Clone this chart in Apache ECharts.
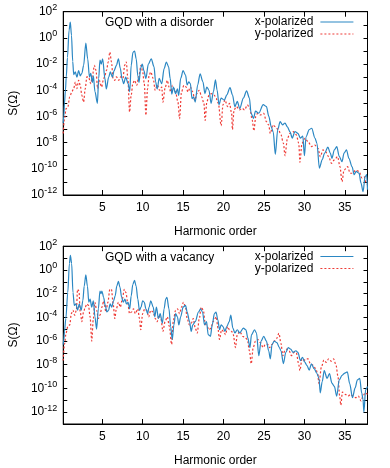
<!DOCTYPE html>
<html>
<head>
<meta charset="utf-8">
<script src="https://cdn.jsdelivr.net/npm/echarts@6/dist/echarts.min.js"></script>
<style>
  html, body { margin: 0; padding: 0; background: #fff; }
  #main { width: 390px; height: 468px; }
</style>
</head>
<body>
<div id="main"></div>
<script>
// harmonic order vs log10 S(Omega)
var disorderX = [
  [0.17,-6.5],[0.25,-6.0],[0.33,-5.0],[0.45,-4.0],[0.55,-3.0],[0.7,-1.5],[0.9,0.6],[1.05,1.2],[1.2,0.2],[1.35,-1.8],
  [1.47,-2.8],[1.67,-2.6],[1.87,-3.0],[2.08,-2.5],[2.28,-2.9],[2.48,-2.7],[2.7,-2.1],[2.97,-0.4],[3.2,-1.6],[3.42,-3.0],
  [3.58,-2.7],[3.78,-3.4],[3.9,-2.9],[4.1,-4.1],[4.4,-5.0],[4.56,-3.1],[4.72,-1.7],[4.88,-2.0],[5.05,-1.6],[5.33,-3.1],
  [5.5,-3.9],[5.8,-3.0],[6.0,-2.6],[6.26,-3.0],[6.47,-2.5],[6.75,-2.1],[7.0,-1.6],[7.24,-2.35],[7.44,-3.1],[7.65,-3.5],
  [7.9,-3.0],[8.2,-3.5],[8.4,-4.1],[8.58,-2.1],[8.8,-1.1],[9.0,-1.0],[9.2,-1.6],[9.4,-2.9],[9.55,-3.4],[9.75,-2.3],
  [9.95,-2.0],[10.15,-2.5],[10.4,-3.1],[10.7,-2.0],[11.06,-1.6],[11.4,-2.2],[11.6,-3.35],[11.8,-3.9],[12.04,-3.1],[12.36,-3.5],
  [12.65,-2.35],[12.93,-1.85],[13.2,-2.2],[13.4,-3.1],[13.6,-4.3],[13.8,-3.75],[14.07,-4.25],[14.3,-3.9],[14.45,-4.4],[14.7,-3.1],
  [15.0,-2.5],[15.3,-2.85],[15.5,-3.6],[15.7,-3.35],[15.9,-3.5],[16.1,-4.65],[16.3,-4.5],[16.5,-4.9],[16.8,-3.6],[17.1,-2.75],
  [17.45,-3.35],[17.7,-4.25],[17.93,-3.75],[18.2,-4.0],[18.46,-5.0],[18.75,-4.1],[19.0,-3.2],[19.2,-3.98],[19.44,-5.1],[19.7,-4.6],
  [20.1,-4.75],[20.4,-4.35],[20.8,-3.8],[21.1,-4.35],[21.4,-5.25],[21.7,-4.85],[22.0,-5.4],[22.45,-4.6],[22.85,-4.05],[23.2,-4.6],
  [23.4,-5.75],[23.7,-6.15],[23.95,-5.6],[24.36,-5.75],[24.9,-5.1],[25.3,-5.25],[25.6,-6.0],[25.9,-6.8],[26.15,-7.2],[26.4,-8.9],
  [26.7,-7.0],[27.0,-6.4],[27.3,-6.65],[27.6,-6.5],[27.9,-6.8],[28.2,-7.15],[28.5,-7.65],[28.83,-7.15],[29.2,-7.3],[29.5,-7.65],
  [29.8,-7.5],[30.0,-9.0],[30.2,-7.55],[30.6,-7.0],[30.9,-6.9],[31.3,-7.65],[31.55,-8.05],[31.85,-9.95],[32.2,-9.3],[32.5,-8.8],
  [32.9,-8.35],[33.2,-8.8],[33.4,-9.2],[33.7,-8.55],[34.0,-8.3],[34.3,-9.05],[34.65,-9.45],[34.9,-8.8],[35.2,-8.55],[35.5,-9.2],
  [35.9,-9.85],[36.15,-10.45],[36.4,-10.2],[36.76,-10.35],[37.0,-11.1],[37.25,-11.75],[37.5,-10.6],[37.7,-10.45],[37.8,-11.6]
];
var disorderY = [
  [0.17,-7.3],[0.33,-6.2],[0.53,-5.4],[0.74,-5.3],[0.98,-4.5],[1.26,-4.1],[1.47,-3.87],[1.67,-3.37],[1.87,-3.87],[2.08,-3.24],
  [2.28,-3.62],[2.48,-4.38],[2.69,-4.9],[2.9,-3.87],[3.1,-2.98],[3.3,-2.98],[3.58,-3.49],[3.83,-2.73],[4.03,-2.1],[4.23,-2.48],
  [4.43,-3.87],[4.64,-3.24],[4.92,-3.75],[5.13,-3.24],[5.33,-2.86],[5.53,-2.48],[5.74,-1.84],[5.94,-1.08],[6.14,-1.84],[6.34,-3.1],
  [6.55,-3.24],[6.75,-2.98],[7.04,-3.24],[7.28,-2.98],[7.56,-3.1],[7.77,-2.1],[7.97,-1.84],[8.17,-3.1],[8.38,-5.65],[8.58,-4.38],
  [8.78,-3.49],[8.98,-3.24],[9.27,-3.62],[9.5,-3.0],[9.8,-2.1],[10.0,-2.6],[10.2,-3.5],[10.4,-5.9],[10.6,-3.9],[10.8,-2.86],
  [11.0,-2.6],[11.3,-3.1],[11.55,-4.0],[11.8,-3.6],[12.1,-4.0],[12.36,-3.75],[12.5,-4.9],[12.8,-3.75],[13.05,-3.24],[13.26,-3.75],
  [13.46,-4.13],[13.67,-3.62],[13.87,-3.87],[14.07,-4.13],[14.36,-4.9],[14.56,-6.17],[14.8,-4.13],[15.1,-3.62],[15.37,-3.75],[15.6,-4.13],
  [15.9,-3.75],[16.2,-4.13],[16.43,-4.77],[16.7,-4.26],[17.0,-4.0],[17.3,-4.51],[17.57,-5.0],[17.73,-6.3],[17.93,-4.9],[18.2,-4.38],
  [18.5,-4.26],[18.87,-4.38],[19.07,-4.62],[19.36,-5.0],[19.7,-6.7],[19.93,-5.12],[20.17,-4.74],[20.5,-5.25],[20.74,-5.0],[21.0,-5.76],
  [21.1,-7.0],[21.3,-5.5],[21.6,-5.25],[21.96,-5.5],[22.3,-5.38],[22.6,-5.5],[22.94,-5.12],[23.26,-5.38],[23.54,-6.27],[23.75,-7.1],
  [23.99,-6.0],[24.2,-5.76],[24.56,-5.89],[24.97,-5.76],[25.3,-6.4],[25.58,-6.65],[25.78,-7.3],[26.1,-6.65],[26.4,-6.78],[26.8,-7.03],
  [27.1,-7.4],[27.4,-8.05],[27.6,-9.0],[27.9,-7.67],[28.2,-7.29],[28.6,-7.16],[29.0,-7.4],[29.3,-8.05],[29.44,-9.5],[29.7,-8.05],
  [30.05,-7.67],[30.45,-7.92],[30.86,-8.3],[31.27,-8.18],[31.67,-8.43],[31.96,-9.07],[32.3,-8.56],[32.6,-8.69],[33.0,-9.07],[33.34,-9.58],
  [33.7,-9.32],[34.1,-9.07],[34.4,-9.83],[34.64,-10.98],[34.9,-10.1],[35.33,-9.83],[35.66,-10.34],[35.94,-10.34],[36.35,-10.1],[36.76,-10.2],
  [37.1,-10.7],[37.37,-10.6],[37.65,-11.1],[37.8,-11.2]
];
var vacancyX = [
  [0.17,-6.3],[0.25,-5.9],[0.33,-5.2],[0.5,-4.1],[0.74,-1.9],[0.94,0.54],[1.06,1.23],[1.22,0.54],[1.38,-1.9],[1.55,-3.0],
  [1.75,-2.87],[1.95,-3.4],[2.16,-2.87],[2.4,-3.4],[2.6,-2.6],[2.77,-1.37],[2.97,-0.41],[3.17,-1.37],[3.34,-2.73],[3.5,-2.46],
  [3.7,-3.14],[3.9,-2.6],[4.1,-3.96],[4.3,-5.0],[4.52,-3.28],[4.72,-1.78],[4.85,-2.0],[4.96,-1.78],[5.17,-2.32],[5.37,-3.0],
  [5.57,-3.55],[5.78,-3.41],[5.98,-2.87],[6.18,-3.14],[6.4,-2.6],[6.6,-2.19],[6.8,-1.37],[7.0,-0.96],[7.2,-1.5],[7.4,-2.32],
  [7.6,-2.73],[7.8,-2.46],[8.0,-2.87],[8.2,-2.73],[8.4,-3.28],[8.58,-2.19],[8.78,-1.23],[8.99,-0.88],[9.19,-1.37],[9.4,-2.46],
  [9.6,-3.41],[9.8,-3.14],[10.0,-2.6],[10.2,-2.73],[10.4,-3.28],[10.6,-3.69],[10.8,-3.14],[11.0,-2.6],[11.3,-3.14],[11.5,-3.96],
  [11.7,-3.14],[11.95,-4.1],[12.16,-3.69],[12.44,-4.5],[12.65,-3.28],[12.85,-2.46],[13.0,-2.32],[13.25,-3.28],[13.46,-4.78],[13.66,-5.87],
  [13.86,-4.64],[14.07,-3.69],[14.3,-3.96],[14.47,-4.64],[14.7,-3.96],[15.0,-3.14],[15.3,-3.0],[15.5,-3.55],[15.8,-4.37],[16.0,-5.19],
  [16.2,-4.64],[16.5,-4.37],[16.9,-3.55],[17.16,-3.28],[17.4,-3.55],[17.65,-4.64],[17.9,-4.37],[18.1,-5.46],[18.38,-5.6],[18.6,-4.64],
  [18.87,-3.69],[19.07,-3.55],[19.3,-4.23],[19.5,-5.05],[19.7,-4.64],[19.93,-4.78],[20.17,-5.19],[20.4,-4.78],[20.7,-4.37],[20.9,-3.82],
  [21.15,-4.91],[21.4,-5.32],[21.7,-5.05],[22.0,-5.32],[22.45,-4.91],[22.77,-5.05],[23.0,-5.73],[23.26,-6.55],[23.46,-5.46],[23.83,-5.05],
  [24.07,-5.32],[24.36,-7.24],[24.64,-6.0],[24.97,-5.6],[25.3,-6.0],[25.58,-6.82],[25.78,-7.5],[26.0,-6.28],[26.27,-6.0],[26.6,-6.14],
  [26.9,-6.55],[27.1,-6.82],[27.4,-7.9],[27.7,-6.96],[28.0,-6.55],[28.3,-6.69],[28.6,-6.96],[28.95,-6.82],[29.2,-6.96],[29.5,-7.65],
  [29.76,-7.37],[30.05,-7.78],[30.3,-8.05],[30.6,-8.46],[30.86,-7.92],[31.2,-8.33],[31.55,-8.74],[31.8,-9.15],[31.96,-10.37],[32.2,-9.42],
  [32.45,-8.5],[32.8,-9.15],[33.1,-8.74],[33.4,-9.55],[33.7,-9.83],[34.0,-10.65],[34.3,-9.28],[34.65,-8.9],[35.0,-8.7],[35.3,-8.6],
  [35.6,-9.6],[35.94,-10.78],[36.27,-9.96],[36.55,-9.28],[36.84,-9.15],[37.08,-10.37],[37.25,-10.92],[37.35,-12.0],[37.57,-10.1],[37.8,-9.83]
];
var vacancyY = [
  [0.17,-7.65],[0.33,-6.28],[0.53,-5.33],[0.74,-4.78],[0.98,-4.64],[1.18,-3.69],[1.38,-3.41],[1.59,-3.82],[1.8,-3.41],[1.95,-1.64],
  [2.12,-1.78],[2.28,-3.55],[2.48,-4.37],[2.69,-3.55],[2.9,-3.14],[3.1,-2.87],[3.3,-3.0],[3.5,-3.96],[3.7,-6.0],[3.9,-4.1],
  [4.1,-2.73],[4.3,-3.41],[4.52,-4.1],[4.72,-3.82],[4.96,-3.14],[5.2,-2.6],[5.45,-3.55],[5.7,-2.73],[5.94,-1.64],[6.14,-1.64],
  [6.35,-2.87],[6.55,-4.1],[6.75,-3.28],[7.0,-2.73],[7.24,-3.14],[7.48,-2.46],[7.73,-1.64],[7.93,-1.91],[8.14,-2.73],[8.38,-3.69],
  [8.62,-3.55],[8.87,-3.28],[9.1,-3.69],[9.4,-3.28],[9.6,-4.1],[9.76,-5.05],[10.0,-3.69],[10.25,-3.28],[10.5,-3.41],[10.74,-3.96],
  [11.0,-3.41],[11.3,-3.55],[11.55,-4.1],[11.8,-4.37],[12.0,-3.82],[12.28,-4.23],[12.5,-5.19],[12.77,-4.37],[13.05,-3.96],[13.3,-4.78],
  [13.58,-6.28],[13.8,-4.23],[14.07,-3.41],[14.3,-3.28],[14.56,-3.69],[14.8,-3.14],[15.04,-2.73],[15.3,-3.14],[15.5,-4.1],[15.78,-4.64],
  [16.0,-4.51],[16.26,-4.1],[16.5,-4.91],[16.75,-5.32],[17.0,-4.1],[17.24,-3.14],[17.5,-3.41],[17.73,-4.51],[17.97,-4.78],[18.2,-5.05],
  [18.46,-4.91],[18.7,-4.37],[18.95,-4.1],[19.1,-3.96],[19.3,-4.91],[19.5,-5.87],[19.76,-5.05],[20.0,-5.19],[20.25,-5.46],[20.5,-4.78],
  [20.74,-5.05],[21.0,-5.19],[21.2,-5.46],[21.47,-6.55],[21.7,-5.46],[22.0,-5.19],[22.37,-5.6],[22.7,-5.73],[22.94,-5.87],[23.2,-6.82],
  [23.42,-7.92],[23.67,-6.55],[23.95,-6.0],[24.24,-5.87],[24.56,-6.14],[24.9,-6.55],[25.17,-6.28],[25.45,-6.28],[25.7,-6.55],[26.0,-6.28],
  [26.27,-6.0],[26.55,-5.8],[26.85,-5.35],[27.1,-6.2],[27.33,-7.24],[27.57,-6.82],[27.8,-6.69],[28.1,-6.82],[28.4,-7.24],[28.7,-6.96],
  [29.0,-7.0],[29.28,-7.9],[29.44,-8.5],[29.7,-7.51],[29.93,-7.65],[30.17,-7.51],[30.45,-7.51],[30.74,-7.92],[31.07,-8.05],[31.4,-8.33],
  [31.63,-8.74],[31.8,-9.6],[32.1,-8.2],[32.4,-7.6],[32.7,-7.8],[33.0,-7.5],[33.3,-7.7],[33.6,-7.5],[33.9,-8.0],[34.15,-9.0],
  [34.35,-10.6],[34.5,-11.4],[34.7,-10.3],[35.05,-10.5],[35.4,-10.64],[35.7,-10.5],[36.0,-10.64],[36.35,-10.78],[36.67,-10.64],[37.0,-11.05],
  [37.25,-10.64],[37.5,-10.37],[37.8,-10.5]
];
var panelTitles = ['GQD with a disorder', 'GQD with a vacancy'];
var seriesNames = ['x-polarized', 'y-polarized'];
var xTicks = [5, 10, 15, 20, 25, 30, 35];
var yMinExp = [-12, -13];
var yMaxExp = 2;

var FONT = 'Liberation Sans, Arial, sans-serif';
var BLUE = '#2b87c3';
var RED = '#ee3b36';

function toS(pts) {
  return pts.map(function (p) { return [p[0], Math.pow(10, p[1])]; });
}
function decades(lo, hi) {
  var out = [];
  for (var e = lo; e <= hi; e++) out.push(Math.pow(10, e));
  return out;
}
function evenDecades(lo, hi) {
  var out = [];
  for (var e = lo; e <= hi; e++) if (e % 2 === 0) out.push(Math.pow(10, e));
  return out;
}

var gridTops = [11.7, 246.2];
var gridHeights = [183.3, 182.1];

var grids = [], xAxes = [], yAxes = [], titles = [], legends = [];
for (var g = 0; g < 2; g++) {
  grids.push({ left: 58.5, width: 309, top: gridTops[g], height: gridHeights[g],
    show: true, borderColor: '#000', borderWidth: 1, backgroundColor: 'transparent' });
  var xBase = { gridIndex: g, type: 'value', min: 0.18, max: 37.8,
    axisLine: { show: true, lineStyle: { color: '#000', width: 1 } },
    axisTick: { show: true, inside: true, length: 5, customValues: xTicks, lineStyle: { color: '#000' } },
    splitLine: { show: false } };
  xAxes.push(Object.assign({}, xBase, {
    position: 'bottom',
    axisLabel: { show: true, customValues: xTicks, color: '#000', fontSize: 12, fontFamily: FONT, margin: 7 },
    name: 'Harmonic order', nameLocation: 'middle', nameGap: 31,
    nameTextStyle: { color: '#000', fontSize: 12, fontFamily: FONT }
  }));
  xAxes.push(Object.assign({}, xBase, { position: 'top', axisLabel: { show: false } }));

  var yBase = { gridIndex: g, type: 'log', logBase: 10,
    min: Math.pow(10, yMinExp[g]), max: Math.pow(10, yMaxExp),
    axisLine: { show: true, lineStyle: { color: '#000', width: 1 } },
    axisTick: { show: true, inside: true, length: 4, customValues: decades(yMinExp[g], yMaxExp), lineStyle: { color: '#000' } },
    splitLine: { show: false } };
  yAxes.push(Object.assign({}, yBase, {
    position: 'left',
    axisLabel: { show: true, customValues: evenDecades(yMinExp[g], yMaxExp), margin: 6,
      formatter: function (v) { return '{b|10}{s|' + Math.round(Math.log10(v)) + '}'; },
      rich: { b: { fontSize: 12, color: '#000', fontFamily: FONT },
              s: { fontSize: 9, color: '#000', fontFamily: FONT, padding: [0, 0, 8, 0] } } },
    name: 'S(\u03a9)', nameLocation: 'middle', nameGap: 40, nameRotate: 90,
    nameTextStyle: { color: '#000', fontSize: 12, fontFamily: FONT }
  }));
  yAxes.push(Object.assign({}, yBase, { position: 'right', axisLabel: { show: false } }));

  titles.push({ text: panelTitles[g], left: 105, top: gridTops[g] + 5,
    padding: 0, textStyle: { color: '#000', fontSize: 12, fontWeight: 'normal', fontFamily: FONT } });
  legends.push({ data: seriesNames, orient: 'vertical', align: 'right', right: 36, top: gridTops[g] + 4.3,
    padding: 0, itemGap: 0, itemWidth: 33, itemHeight: 12, selectedMode: false,
    itemStyle: { color: 'rgba(0,0,0,0)', borderColor: 'rgba(0,0,0,0)', borderWidth: 0, opacity: 0 },
    lineStyle: { width: 1.2 },
    textStyle: { color: '#000', fontSize: 12, fontFamily: FONT, padding: [0, 2, 0, 0] } });
}

var sets = [[disorderX, disorderY], [vacancyX, vacancyY]];
var series = [];
for (var k = 0; k < 2; k++) {
  series.push({ name: seriesNames[0], type: 'line', xAxisIndex: 2 * k, yAxisIndex: 2 * k,
    data: toS(sets[k][0]), showSymbol: false, symbol: 'none', z: 3,
    smooth: 0.3, smoothMonotone: 'x',
    lineStyle: { color: BLUE, width: 1.2 }, itemStyle: { color: BLUE } });
  series.push({ name: seriesNames[1], type: 'line', xAxisIndex: 2 * k, yAxisIndex: 2 * k,
    data: toS(sets[k][1]), showSymbol: false, symbol: 'none', z: 2,
    smooth: 0.3, smoothMonotone: 'x',
    lineStyle: { color: RED, width: 1.2, type: [2, 2] }, itemStyle: { color: RED } });
}

var chart = echarts.init(document.getElementById('main'));
chart.setOption({
  animation: false,
  backgroundColor: '#fff',
  title: titles,
  legend: legends,
  grid: grids,
  xAxis: xAxes,
  yAxis: yAxes,
  series: series
});
</script>
</body>
</html>
